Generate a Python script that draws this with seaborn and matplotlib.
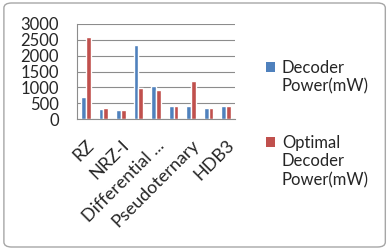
import pandas as pd
import numpy as np
import seaborn as sns
import matplotlib.pyplot as plt
from matplotlib.patches import FancyBboxPatch, Patch

# categories (only every other one gets a visible label, like the source chart)
categories = ['RZ', 'NRZ-L', 'NRZ-I', 'Manchester', 'Differential ...',
              'AMI', 'Pseudoternary', 'B8ZS', 'HDB3']
tick_labels = ['RZ', '', 'NRZ-I', '', 'Differential ...', '', 'Pseudoternary', '', 'HDB3']
decoder_power = [700, 305, 300, 2340, 1045, 400, 400, 355, 400]
optimal_power = [2600, 355, 300, 970, 925, 400, 1195, 355, 400]
series_names = ['Decoder Power(mW)', 'Optimal Decoder Power(mW)']
legend_lines = [['Decoder', 'Power(mW)'], ['Optimal', 'Decoder', 'Power(mW)']]
colors = ['#4F81BD', '#C0504D']

df = pd.DataFrame({
    'Category': categories * 2,
    'Power': decoder_power + optimal_power,
    'Series': [series_names[0]] * len(categories) + [series_names[1]] * len(categories),
})

sns.set_style('white')
plt.rcParams['font.family'] = ['Lato', 'DejaVu Sans']

fig = plt.figure(figsize=(3.9, 2.5), dpi=100)
ax = fig.add_axes([77 / 390, 1 - 119 / 250, (235 - 77) / 390, (119 - 24) / 250])

sns.barplot(data=df, x='Category', y='Power', hue='Series',
            palette=colors, width=0.55, gap=0,
            saturation=1, ax=ax, legend=False)

ax.set_ylim(0, 3000)
ax.set_xlim(-0.5, len(categories) - 0.5)
ax.set_yticks(np.arange(0, 3001, 500))
ax.yaxis.grid(True, color='#8c8c8c', linewidth=0.8)
ax.set_axisbelow(True)
ax.set_xlabel('')
ax.set_ylabel('')

ax.set_xticks(range(len(categories)))
ax.set_xticklabels(tick_labels, rotation=45, ha='right', rotation_mode='anchor', fontsize=13)
ax.tick_params(axis='x', length=0, pad=13)
ax.set_xticks(np.arange(-0.5, len(categories)), minor=True)
ax.tick_params(axis='x', which='minor', length=5, color='#8c8c8c', width=0.8, direction='out')
ax.tick_params(axis='y', length=5, color='#8c8c8c', width=0.8, direction='out', labelsize=12, pad=8)

for side in ['top', 'right']:
    ax.spines[side].set_visible(False)
ax.spines['left'].set_color('#8c8c8c')
ax.spines['bottom'].set_color('#8c8c8c')

# legend: square next to the first line of each wrapped label
blank = Patch(facecolor='none', edgecolor='none')
legend_tops = [60, 135]
for color, lines, top in zip(colors, legend_lines, legend_tops):
    handles = [Patch(facecolor=color, edgecolor='none')] + [blank] * (len(lines) - 1)
    fig.legend(handles, lines, loc='upper left',
               bbox_to_anchor=(266 / 390, 1 - top / 250),
               frameon=False, fontsize=12,
               handlelength=0.55, handleheight=0.55, handletextpad=0.4,
               labelspacing=0.15, borderpad=0, borderaxespad=0)

fig.patches.append(FancyBboxPatch((0.01, 0.012), 0.978, 0.976,
                                  boxstyle='round,pad=0,rounding_size=0.02',
                                  transform=fig.transFigure, fill=False,
                                  edgecolor='#a6a6a6', linewidth=1))

fig.savefig('out.png', dpi=100)
